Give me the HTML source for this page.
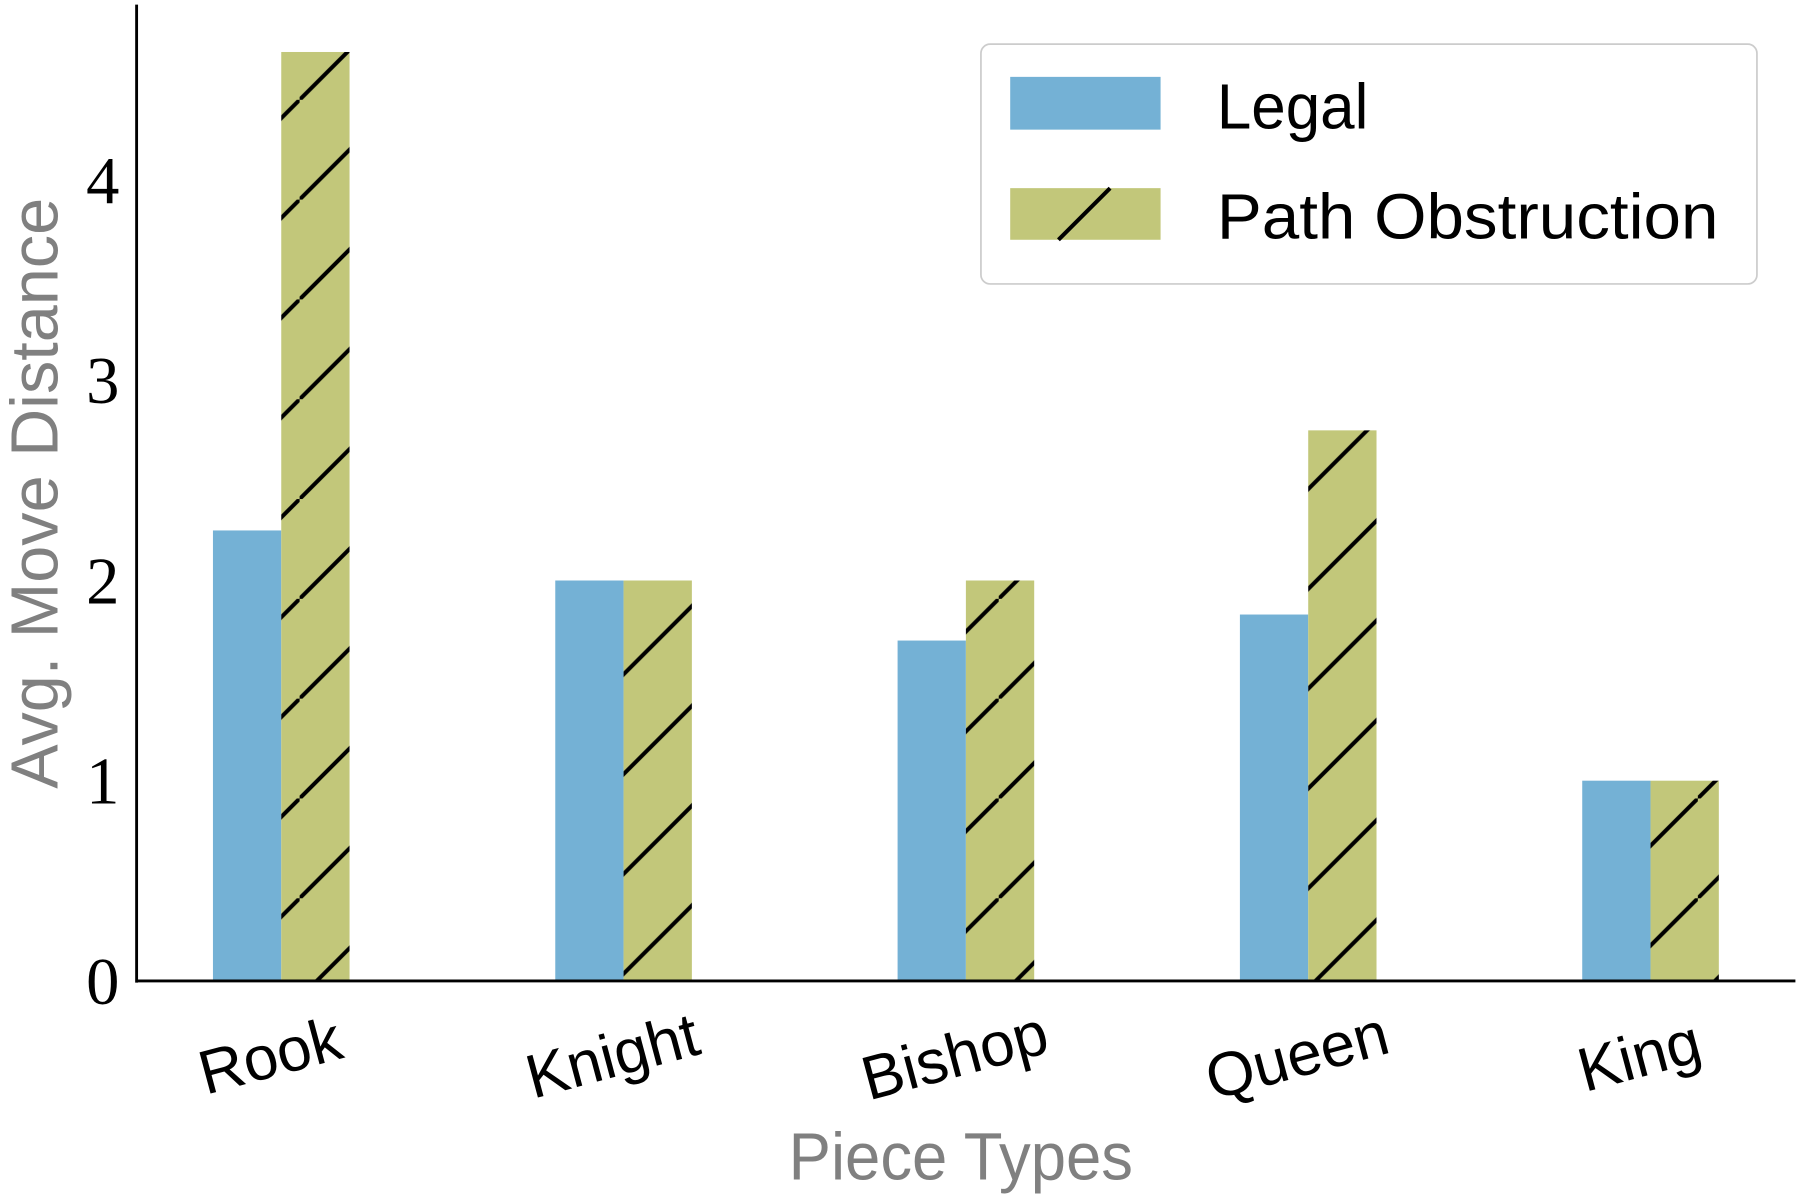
<!DOCTYPE html>
<html><head><meta charset="utf-8"><style>
html,body{margin:0;padding:0;background:#fff;}
svg{display:block;}
.tick{font-family:"Liberation Serif",serif;font-size:58px;fill:#000;}
.xt{font-family:"Liberation Sans",sans-serif;font-size:54px;fill:#000;}
.lab{font-family:"Liberation Sans",sans-serif;font-size:58px;fill:#808080;}
.leg{font-family:"Liberation Sans",sans-serif;font-size:56px;fill:#000;}
</style></head><body>
<svg id="chart" width="1800" height="1200" viewBox="0 0 1568 1046" preserveAspectRatio="none" xmlns="http://www.w3.org/2000/svg">
<defs>
<pattern id="hatch" patternUnits="userSpaceOnUse" width="87" height="87" x="0" y="0">
<rect width="87" height="87" fill="#c2c77a"/>
<line x1="-10" y1="97" x2="97" y2="-10" stroke="#000" stroke-width="3.5"/>
</pattern>
</defs>
<g id="bars"></g>
<g id="axes"></g>
<g>
<rect x="854.5" y="38.5" width="676" height="209" rx="8" fill="#fff" stroke="#ccc" stroke-width="1.5"/>
<rect x="880" y="67" width="131" height="46" fill="#74b1d5"/>
<text class="leg" x="1060" y="112" textLength="132" lengthAdjust="spacingAndGlyphs">Legal</text>
<rect x="880" y="164" width="131" height="45" fill="#c2c77a"/>
<line x1="922" y1="209" x2="967" y2="164" stroke="#000" stroke-width="3.5"/>
<text class="leg" x="1060" y="208" textLength="437" lengthAdjust="spacingAndGlyphs">Path Obstruction</text>
</g>
<text class="lab" transform="translate(50,430) rotate(-90)" text-anchor="middle" textLength="515" lengthAdjust="spacingAndGlyphs">Avg. Move Distance</text>
<text class="lab" x="837" y="1028" text-anchor="middle" textLength="300" lengthAdjust="spacingAndGlyphs">Piece Types</text>
</svg>
<script>
const categories = ["Rook","Knight","Bishop","Queen","King"];
const legalValues = [2.25, 2.0, 1.70, 1.83, 1.0];
const obstructionValues = [4.64, 2.0, 2.0, 2.75, 1.0];
const yTicks = [0,1,2,3,4];

const NS="http://www.w3.org/2000/svg";
const x0=119, yBase=855, unit=174.5, groupStart=245, groupStep=298.2, barW=59.5;
const y=v=>yBase-v*unit;
const xc=i=>groupStart+i*groupStep;
const bars=document.getElementById('bars');
const axes=document.getElementById('axes');
function mk(tag,attrs,parent){const e=document.createElementNS(NS,tag);for(const k in attrs)e.setAttribute(k,attrs[k]);parent.appendChild(e);return e;}
categories.forEach((c,i)=>{
  const a=mk('rect',{x:xc(i)-barW,y:y(legalValues[i]),width:barW,height:yBase-y(legalValues[i]),fill:'#74b1d5'},bars);
  
  
  const b=mk('rect',{x:xc(i),y:y(obstructionValues[i]),width:barW,height:yBase-y(obstructionValues[i]),fill:'url(#hatch)'},bars);
  
  
  const t=mk('text',{class:'xt','text-anchor':'middle',transform:`translate(${xc(i)-5},${938}) rotate(-15)`},axes);
  t.textContent=c;
  
  
});
yTicks.forEach(v=>{
  const t=mk('text',{class:'tick','text-anchor':'end',x:104,y:y(v)+20},axes);
  t.textContent=v;
  
  
});
const ya=mk('line',{x1:x0,y1:4,x2:x0,y2:yBase+1.5,stroke:'#000','stroke-width':2.5},axes);


const xa=mk('line',{x1:x0-1,y1:yBase,x2:1564,y2:yBase,stroke:'#000','stroke-width':2.5},axes);


</script>
</body></html>
